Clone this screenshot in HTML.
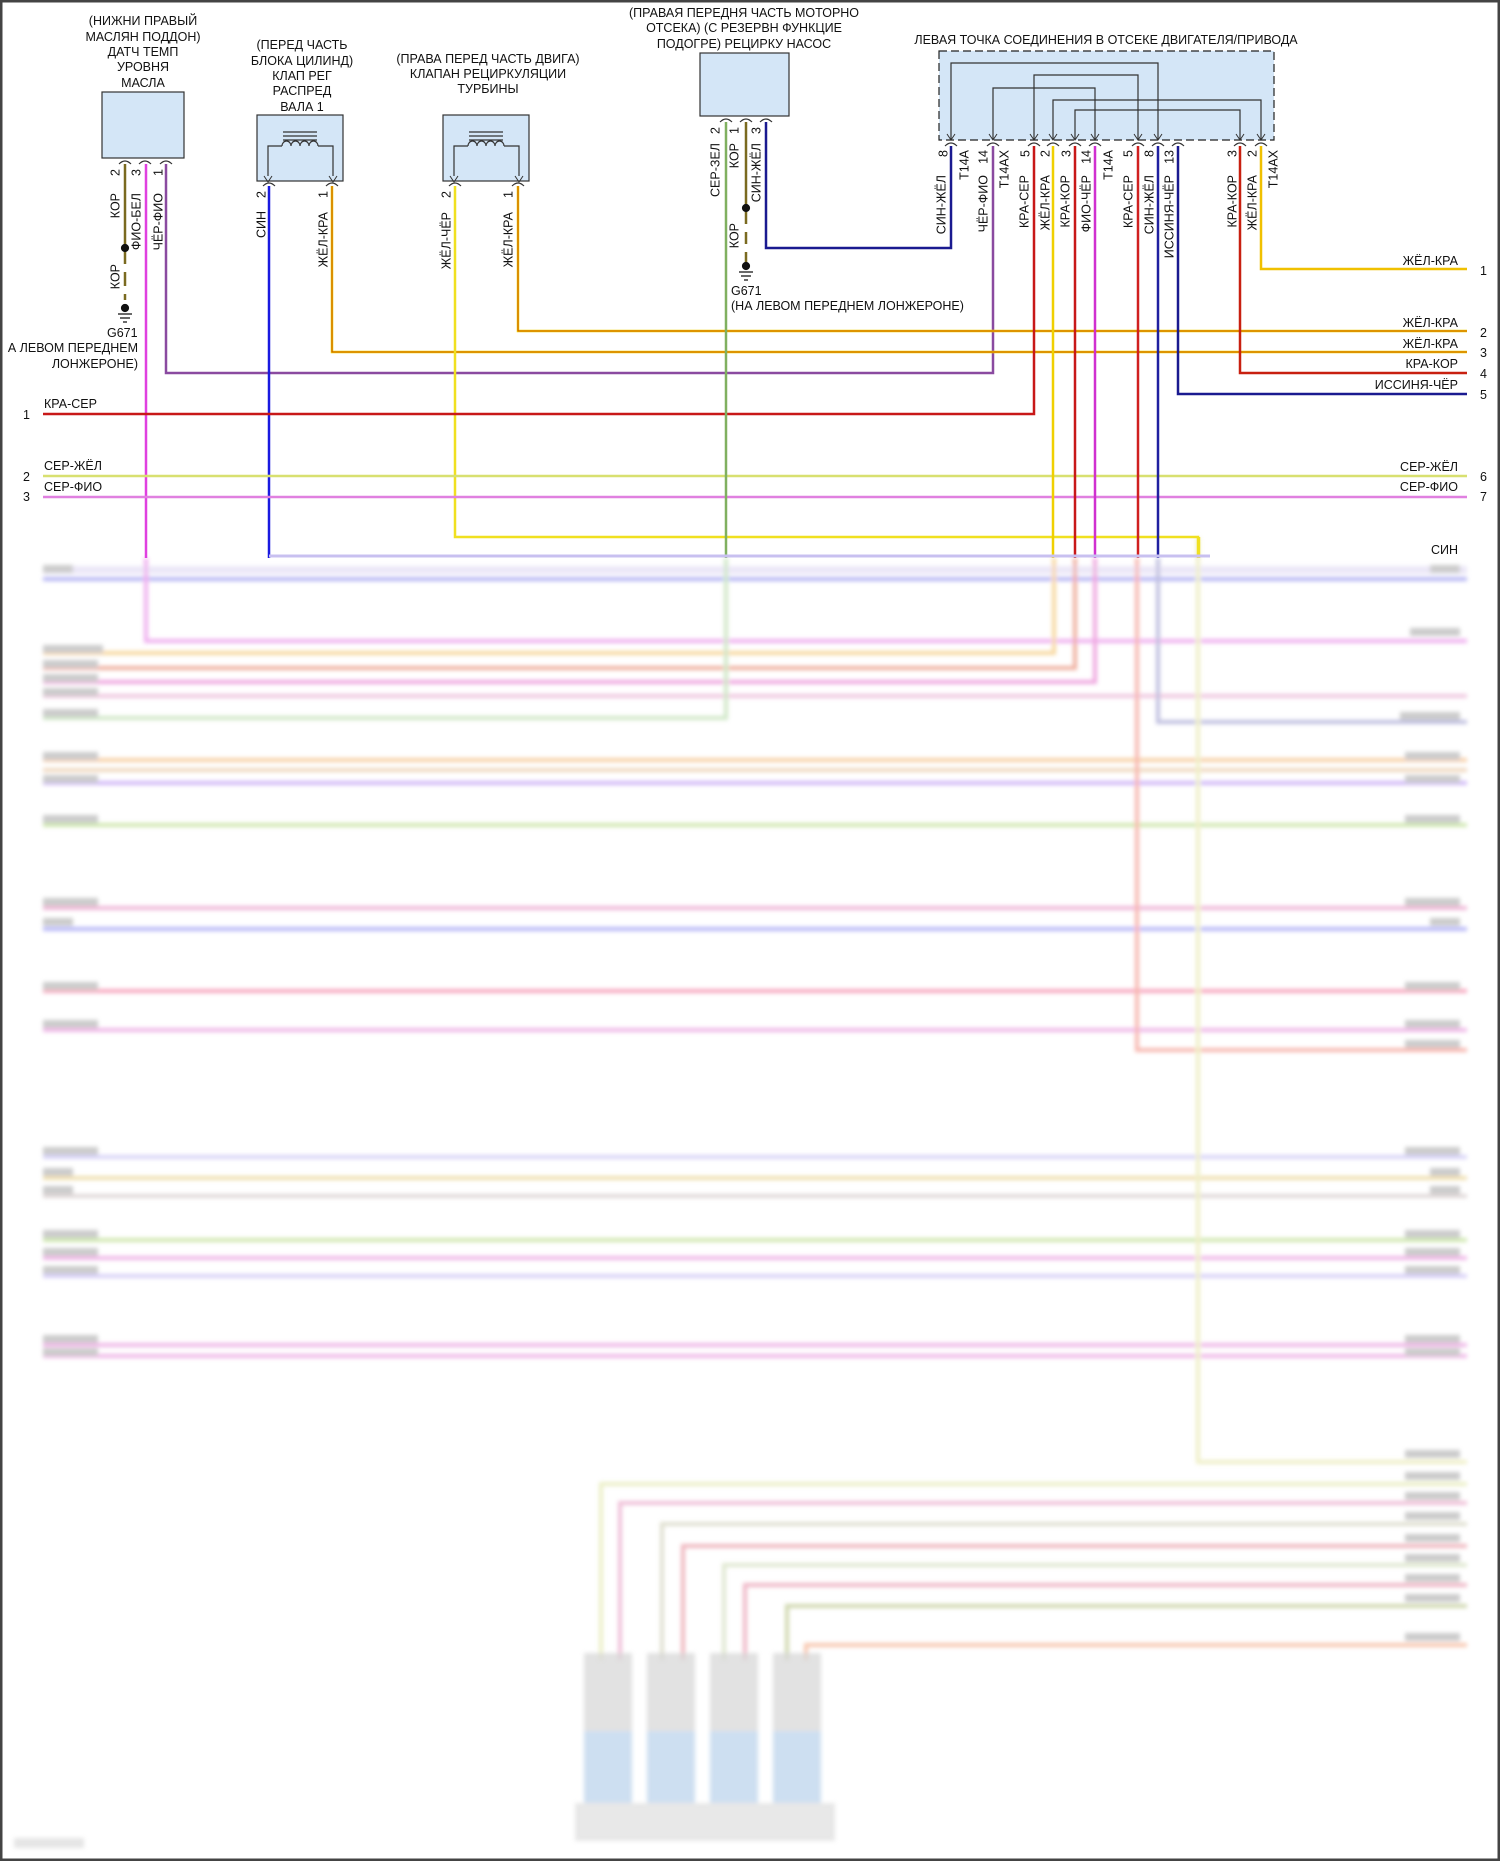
<!DOCTYPE html>
<html><head><meta charset="utf-8"><style>
html,body{margin:0;padding:0;background:#fff}
svg{display:block}
text{font-family:"Liberation Sans",sans-serif;fill:#111}
</style></head><body>
<svg width="1500" height="1861" viewBox="0 0 1500 1861" xmlns="http://www.w3.org/2000/svg">
<defs>
<filter id="bl" x="-5%" y="-5%" width="110%" height="110%"><feGaussianBlur stdDeviation="2.2"/></filter>
</defs>
<rect x="0" y="0" width="1500" height="1861" fill="#fff"/>
<rect x="1" y="1" width="1498" height="1859" fill="none" stroke="#444" stroke-width="3"/>

<!-- ===== LOWER BLURRED PART ===== -->
<g filter="url(#bl)" opacity="0.5" stroke-width="4" fill="none">
 <line x1="43" y1="579" x2="1467" y2="579" stroke="#6a6ae8"/>
 <line x1="43" y1="570" x2="1467" y2="570" stroke="#d8d0f0" stroke-width="8"/>
 <polyline points="146,558 146,641 1467,641" stroke="#e060e0"/>
 <polyline points="43,653 1054,653 1054,558" stroke="#f0b040"/>
 <polyline points="43,668 1075,668 1075,558" stroke="#e06040"/>
 <polyline points="43,682 1095,682 1095,558" stroke="#e050c0"/>
 <line x1="43" y1="696" x2="1467" y2="696" stroke="#e090c0"/>
 <polyline points="43,718 726,718 726,558" stroke="#a0d090"/>
 <polyline points="1158,558 1158,722 1467,722" stroke="#8080c0"/>
 <line x1="43" y1="760" x2="1467" y2="760" stroke="#f0a050"/>
 <line x1="43" y1="770" x2="1467" y2="770" stroke="#e0b080"/>
 <line x1="43" y1="783" x2="1467" y2="783" stroke="#a070f0"/>
 <line x1="43" y1="825" x2="1467" y2="825" stroke="#a0d060"/>
 <line x1="43" y1="908" x2="1467" y2="908" stroke="#e070b0"/>
 <line x1="43" y1="929" x2="1467" y2="929" stroke="#7070f0"/>
 <line x1="43" y1="991" x2="1467" y2="991" stroke="#f05080"/>
 <line x1="43" y1="1030" x2="1467" y2="1030" stroke="#e070d0"/>
 <polyline points="1137,558 1137,1050 1467,1050" stroke="#f07060"/>
 <line x1="43" y1="1157" x2="1467" y2="1157" stroke="#b0a8f0"/>
 <line x1="43" y1="1178" x2="1467" y2="1178" stroke="#e0c060"/>
 <line x1="43" y1="1196" x2="1467" y2="1196" stroke="#c0b0b0"/>
 <line x1="43" y1="1240" x2="1467" y2="1240" stroke="#a0d060"/>
 <line x1="43" y1="1258" x2="1467" y2="1258" stroke="#e070d0"/>
 <line x1="43" y1="1276" x2="1467" y2="1276" stroke="#b0a0f0"/>
 <line x1="43" y1="1345" x2="1467" y2="1345" stroke="#e070d0"/>
 <line x1="43" y1="1356" x2="1467" y2="1356" stroke="#e070d0"/>
 <polyline points="1198,537 1198,1462 1467,1462" stroke="#e0e090"/>
 <polyline points="601,1660 601,1484 1467,1484" stroke="#d8e090"/>
 <polyline points="620,1660 620,1503 1467,1503" stroke="#e080b0"/>
 <polyline points="662,1660 662,1524 1467,1524" stroke="#c0c0a0"/>
 <polyline points="683,1660 683,1546 1467,1546" stroke="#e07080"/>
 <polyline points="724,1660 724,1565 1467,1565" stroke="#c0d0a0"/>
 <polyline points="745,1660 745,1585 1467,1585" stroke="#e07090"/>
 <polyline points="787,1660 787,1606 1467,1606" stroke="#a0b060"/>
 <polyline points="806,1660 806,1645 1467,1645" stroke="#f09060"/>
 <g stroke="none" opacity="0.75">
  <rect x="584" y="1653" width="48" height="78" fill="#b0b0b0"/>
  <rect x="647" y="1653" width="48" height="78" fill="#b0b0b0"/>
  <rect x="710" y="1653" width="48" height="78" fill="#b0b0b0"/>
  <rect x="773" y="1653" width="48" height="78" fill="#b0b0b0"/>
  <rect x="584" y="1731" width="48" height="72" fill="#7aaad8"/>
  <rect x="647" y="1731" width="48" height="72" fill="#7aaad8"/>
  <rect x="710" y="1731" width="48" height="72" fill="#7aaad8"/>
  <rect x="773" y="1731" width="48" height="72" fill="#7aaad8"/>
  <rect x="575" y="1803" width="260" height="38" fill="#c0c0c0"/>
  <rect x="14" y="1838" width="70" height="10" fill="#bbb"/>
 </g>
 <g stroke="none" fill="#999">
  <rect x="43" y="565" width="30" height="8"/><rect x="1430" y="565" width="30" height="8"/>
  <rect x="1410" y="628" width="50" height="8"/>
  <rect x="43" y="645" width="60" height="8"/><rect x="43" y="660" width="55" height="8"/>
  <rect x="43" y="674" width="55" height="8"/><rect x="43" y="688" width="55" height="8"/>
  <rect x="43" y="709" width="55" height="8"/><rect x="1400" y="712" width="60" height="8"/>
  <rect x="43" y="752" width="55" height="8"/><rect x="43" y="775" width="55" height="8"/>
  <rect x="1405" y="752" width="55" height="8"/><rect x="1405" y="775" width="55" height="8"/>
  <rect x="43" y="815" width="55" height="8"/><rect x="1405" y="815" width="55" height="8"/>
  <rect x="43" y="898" width="55" height="8"/><rect x="43" y="918" width="30" height="8"/>
  <rect x="1405" y="898" width="55" height="8"/><rect x="1430" y="918" width="30" height="8"/>
  <rect x="43" y="982" width="55" height="8"/><rect x="1405" y="982" width="55" height="8"/>
  <rect x="43" y="1020" width="55" height="8"/><rect x="1405" y="1020" width="55" height="8"/>
  <rect x="1405" y="1040" width="55" height="8"/>
  <rect x="43" y="1147" width="55" height="8"/><rect x="43" y="1168" width="30" height="8"/><rect x="43" y="1186" width="30" height="8"/>
  <rect x="1405" y="1147" width="55" height="8"/><rect x="1430" y="1168" width="30" height="8"/><rect x="1430" y="1186" width="30" height="8"/>
  <rect x="43" y="1230" width="55" height="8"/><rect x="43" y="1248" width="55" height="8"/><rect x="43" y="1266" width="55" height="8"/>
  <rect x="1405" y="1230" width="55" height="8"/><rect x="1405" y="1248" width="55" height="8"/><rect x="1405" y="1266" width="55" height="8"/>
  <rect x="43" y="1335" width="55" height="8"/><rect x="43" y="1348" width="55" height="8"/>
  <rect x="1405" y="1335" width="55" height="8"/><rect x="1405" y="1348" width="55" height="8"/>
  <rect x="1405" y="1450" width="55" height="8"/>
  <rect x="1405" y="1472" width="55" height="8"/>
  <rect x="1405" y="1492" width="55" height="8"/>
  <rect x="1405" y="1512" width="55" height="8"/>
  <rect x="1405" y="1534" width="55" height="8"/>
  <rect x="1405" y="1554" width="55" height="8"/>
  <rect x="1405" y="1574" width="55" height="8"/>
  <rect x="1405" y="1594" width="55" height="8"/>
  <rect x="1405" y="1633" width="55" height="8"/>
 </g>
</g>

<!-- ===== UPPER SHARP PART ===== -->
<g font-size="12.5" text-anchor="middle">
 <text x="143" y="25">(НИЖНИ ПРАВЫЙ</text>
 <text x="143" y="41">МАСЛЯН ПОДДОН)</text>
 <text x="143" y="56">ДАТЧ ТЕМП</text>
 <text x="143" y="71">УРОВНЯ</text>
 <text x="143" y="87">МАСЛА</text>
 <text x="302" y="49">(ПЕРЕД ЧАСТЬ</text>
 <text x="302" y="65">БЛОКА ЦИЛИНД)</text>
 <text x="302" y="80">КЛАП РЕГ</text>
 <text x="302" y="95">РАСПРЕД</text>
 <text x="302" y="111">ВАЛА 1</text>
 <text x="488" y="63">(ПРАВА ПЕРЕД ЧАСТЬ ДВИГА)</text>
 <text x="488" y="78">КЛАПАН РЕЦИРКУЛЯЦИИ</text>
 <text x="488" y="93">ТУРБИНЫ</text>
 <text x="744" y="17">(ПРАВАЯ ПЕРЕДНЯ ЧАСТЬ МОТОРНО</text>
 <text x="744" y="32">ОТСЕКА) (С РЕЗЕРВН ФУНКЦИЕ</text>
 <text x="744" y="48">ПОДОГРЕ) РЕЦИРКУ НАСОС</text>
 <text x="1106" y="44">ЛЕВАЯ ТОЧКА СОЕДИНЕНИЯ В ОТСЕКЕ ДВИГАТЕЛЯ/ПРИВОДА</text>
</g>

<!-- boxes -->
<g fill="#d4e6f7" stroke="#333" stroke-width="1.2">
 <rect x="102" y="92" width="82" height="66"/>
 <rect x="257" y="115" width="86" height="66"/>
 <rect x="443" y="115" width="86" height="66"/>
 <rect x="700" y="53" width="89" height="63"/>
 <rect x="939" y="51" width="335" height="89" stroke-dasharray="8,4" stroke="#222"/>
</g>
<!-- coil symbols -->
<g fill="none" stroke="#333" stroke-width="1.2">
 <path d="M268,176 V146 H282 M318,146 H333 V176"/>
 <path d="M282,146 a4.5,5 0 0 1 9,0 a4.5,5 0 0 1 9,0 a4.5,5 0 0 1 9,0 a4.5,5 0 0 1 9,0"/>
 <path d="M283,132 H317 M283,136 H317 M283,140 H317"/>
 <path d="M454,176 V146 H468 M504,146 H519 V176"/>
 <path d="M468,146 a4.5,5 0 0 1 9,0 a4.5,5 0 0 1 9,0 a4.5,5 0 0 1 9,0 a4.5,5 0 0 1 9,0"/>
 <path d="M469,132 H503 M469,136 H503 M469,140 H503"/>
 <path d="M951,140 V63 H1158 V140"/>
 <path d="M1034,140 V75 H1138 V140"/>
 <path d="M993,140 V88 H1095 V140"/>
 <path d="M1053,140 V100 H1261 V140"/>
 <path d="M1075,140 V110 H1240 V140"/>
</g>
<!-- pin symbols -->
<g fill="none" stroke="#333" stroke-width="1.2">
 <path d="M119,164 q6,-6 12,0 M139,164 q6,-6 12,0 M160,164 q6,-6 12,0"/>
 <path d="M263,186 q6,-6 12,0 M326,186 q6,-6 12,0 M449,186 q6,-6 12,0 M512,186 q6,-6 12,0"/>
 <path d="M720,122 q6,-6 12,0 M740,122 q6,-6 12,0 M760,122 q6,-6 12,0"/>
 <path d="M945,146 q6,-6 12,0 M987,146 q6,-6 12,0 M1028,146 q6,-6 12,0 M1047,146 q6,-6 12,0 M1069,146 q6,-6 12,0 M1089,146 q6,-6 12,0 M1132,146 q6,-6 12,0 M1152,146 q6,-6 12,0 M1172,146 q6,-6 12,0 M1234,146 q6,-6 12,0 M1255,146 q6,-6 12,0"/>
</g>
<g fill="none" stroke="#333" stroke-width="1">
 <path d="M264,176 l4,6 4,-6 M329,176 l4,6 4,-6 M450,176 l4,6 4,-6 M515,176 l4,6 4,-6"/>
 <path d="M947,134 l4,6 4,-6 M989,134 l4,6 4,-6 M1030,134 l4,6 4,-6 M1049,134 l4,6 4,-6 M1071,134 l4,6 4,-6 M1091,134 l4,6 4,-6 M1134,134 l4,6 4,-6 M1154,134 l4,6 4,-6 M1236,134 l4,6 4,-6 M1257,134 l4,6 4,-6"/>
</g>

<!-- wires upper -->
<g fill="none" stroke-width="2.5">
 <line x1="125" y1="164" x2="125" y2="246" stroke="#7a6a20"/>
 <line x1="125" y1="250" x2="125" y2="300" stroke="#7a6a20" stroke-dasharray="14,8"/>
 <line x1="146" y1="164" x2="146" y2="558" stroke="#e040e0"/>
 <polyline points="166,164 166,373 993,373 993,146" stroke="#8a4aa0"/>
 <line x1="269" y1="186" x2="269" y2="558" stroke="#1a1ae0"/>
 <polyline points="332,186 332,352 1467,352" stroke="#f0d000"/>
 <polyline points="332,186 332,352 1467,352" stroke="#c03000" stroke-width="0.8"/>
 <polyline points="455,186 455,537 1198,537 1198,558" stroke="#f0e020"/>
 <polyline points="518,186 518,331 1467,331" stroke="#f0d000"/>
 <polyline points="518,186 518,331 1467,331" stroke="#c03000" stroke-width="0.8"/>
 <polyline points="43,414 1034,414 1034,146" stroke="#c81818"/>
 <line x1="43" y1="476" x2="1467" y2="476" stroke="#d8e070"/>
 <line x1="43" y1="497" x2="1467" y2="497" stroke="#e080e0"/>
 <line x1="726" y1="122" x2="726" y2="558" stroke="#80b060"/>
 <line x1="746" y1="122" x2="746" y2="206" stroke="#7a6a20"/>
 <line x1="746" y1="212" x2="746" y2="262" stroke="#7a6a20" stroke-dasharray="12,8"/>
 <polyline points="766,122 766,248 951,248 951,146" stroke="#1a1a90"/>
 <line x1="1053" y1="146" x2="1053" y2="558" stroke="#f0d000"/>
 <line x1="1075" y1="146" x2="1075" y2="558" stroke="#c81818"/>
 <line x1="1095" y1="146" x2="1095" y2="558" stroke="#d030d0"/>
 <line x1="1138" y1="146" x2="1138" y2="558" stroke="#d02020"/>
 <line x1="1158" y1="146" x2="1158" y2="558" stroke="#2020a0"/>
 <polyline points="1178,146 1178,394 1467,394" stroke="#1a1a90"/>
 <polyline points="1240,146 1240,373 1467,373" stroke="#c82010"/>
 <polyline points="1261,146 1261,269 1467,269" stroke="#f0c000"/>
 <line x1="1199" y1="537" x2="1199" y2="558" stroke="#f0e020"/>
 <line x1="269" y1="556" x2="1210" y2="556" stroke="#c8c0f0" stroke-width="3"/>
</g>
<!-- ground symbols -->
<g fill="#111" stroke="#111" stroke-width="1.2">
 <circle cx="125" cy="248" r="3.5"/>
 <circle cx="125" cy="308" r="3.5"/>
 <path d="M118,314 H132 M120,318 H130 M123,322 H127" fill="none"/>
 <circle cx="746" cy="208" r="3.5"/>
 <circle cx="746" cy="266" r="3.5"/>
 <path d="M739,272 H753 M741,276 H751 M744,280 H748" fill="none"/>
</g>

<g font-size="12.5">
 <text x="107" y="337">G671</text>
 <text x="138" y="352" text-anchor="end">А ЛЕВОМ ПЕРЕДНЕМ</text>
 <text x="138" y="368" text-anchor="end">ЛОНЖЕРОНЕ)</text>
 <text x="731" y="295">G671</text>
 <text x="731" y="310">(НА ЛЕВОМ ПЕРЕДНЕМ ЛОНЖЕРОНЕ)</text>
 <text x="44" y="408">КРА-СЕР</text>
 <text x="44" y="470">СЕР-ЖЁЛ</text>
 <text x="44" y="491">СЕР-ФИО</text>
 <text x="23" y="419">1</text>
 <text x="23" y="481">2</text>
 <text x="23" y="501">3</text>
 <g text-anchor="end">
  <text x="1458" y="265">ЖЁЛ-КРА</text>
  <text x="1458" y="327">ЖЁЛ-КРА</text>
  <text x="1458" y="348">ЖЁЛ-КРА</text>
  <text x="1458" y="368">КРА-КОР</text>
  <text x="1458" y="389">ИССИНЯ-ЧЁР</text>
  <text x="1458" y="471">СЕР-ЖЁЛ</text>
  <text x="1458" y="491">СЕР-ФИО</text>
  <text x="1458" y="554">СИН</text>
 </g>
 <text x="1480" y="275">1</text>
 <text x="1480" y="337">2</text>
 <text x="1480" y="357">3</text>
 <text x="1480" y="378">4</text>
 <text x="1480" y="399">5</text>
 <text x="1480" y="481">6</text>
 <text x="1480" y="501">7</text>
</g>

<!-- rotated labels -->
<g font-size="12.5" text-anchor="end">
 <text transform="translate(119.5,169) rotate(-90)">2</text>
 <text transform="translate(119.5,193) rotate(-90)">КОР</text>
 <text transform="translate(140.5,169) rotate(-90)">3</text>
 <text transform="translate(140.5,193) rotate(-90)">ФИО-БЕЛ</text>
 <text transform="translate(162.5,169) rotate(-90)">1</text>
 <text transform="translate(162.5,193) rotate(-90)">ЧЁР-ФИО</text>
 <text transform="translate(119.5,264) rotate(-90)">КОР</text>
 <text transform="translate(265.5,191) rotate(-90)">2</text>
 <text transform="translate(265.5,211) rotate(-90)">СИН</text>
 <text transform="translate(327.5,191) rotate(-90)">1</text>
 <text transform="translate(327.5,212) rotate(-90)">ЖЁЛ-КРА</text>
 <text transform="translate(450.5,191) rotate(-90)">2</text>
 <text transform="translate(450.5,212) rotate(-90)">ЖЁЛ-ЧЁР</text>
 <text transform="translate(512.5,191) rotate(-90)">1</text>
 <text transform="translate(512.5,212) rotate(-90)">ЖЁЛ-КРА</text>
 <text transform="translate(719.5,127) rotate(-90)">2</text>
 <text transform="translate(719.5,143) rotate(-90)">СЕР-ЗЕЛ</text>
 <text transform="translate(738.5,127) rotate(-90)">1</text>
 <text transform="translate(738.5,143) rotate(-90)">КОР</text>
 <text transform="translate(760.5,127) rotate(-90)">3</text>
 <text transform="translate(760.5,143) rotate(-90)">СИН-ЖЁЛ</text>
 <text transform="translate(738.5,223) rotate(-90)">КОР</text>
 <text transform="translate(947.5,150) rotate(-90)">8</text>
 <text transform="translate(968.5,150) rotate(-90)">T14A</text>
 <text transform="translate(987.5,150) rotate(-90)">14</text>
 <text transform="translate(1008.5,150) rotate(-90)">T14AX</text>
 <text transform="translate(1029.5,150) rotate(-90)">5</text>
 <text transform="translate(1049.5,150) rotate(-90)">2</text>
 <text transform="translate(1070.5,150) rotate(-90)">3</text>
 <text transform="translate(1090.5,150) rotate(-90)">14</text>
 <text transform="translate(1112.5,150) rotate(-90)">T14A</text>
 <text transform="translate(1132.5,150) rotate(-90)">5</text>
 <text transform="translate(1153.5,150) rotate(-90)">8</text>
 <text transform="translate(1173.5,150) rotate(-90)">13</text>
 <text transform="translate(1236.5,150) rotate(-90)">3</text>
 <text transform="translate(1256.5,150) rotate(-90)">2</text>
 <text transform="translate(1277.5,150) rotate(-90)">T14AX</text>
 <text transform="translate(945.5,175) rotate(-90)">СИН-ЖЁЛ</text>
 <text transform="translate(987.5,175) rotate(-90)">ЧЁР-ФИО</text>
 <text transform="translate(1028.5,175) rotate(-90)">КРА-СЕР</text>
 <text transform="translate(1049.5,175) rotate(-90)">ЖЁЛ-КРА</text>
 <text transform="translate(1069.5,175) rotate(-90)">КРА-КОР</text>
 <text transform="translate(1090.5,175) rotate(-90)">ФИО-ЧЁР</text>
 <text transform="translate(1132.5,175) rotate(-90)">КРА-СЕР</text>
 <text transform="translate(1153.5,175) rotate(-90)">СИН-ЖЁЛ</text>
 <text transform="translate(1173.5,175) rotate(-90)">ИССИНЯ-ЧЁР</text>
 <text transform="translate(1236.5,175) rotate(-90)">КРА-КОР</text>
 <text transform="translate(1256.5,175) rotate(-90)">ЖЁЛ-КРА</text>
</g>
</svg>
</body></html>
